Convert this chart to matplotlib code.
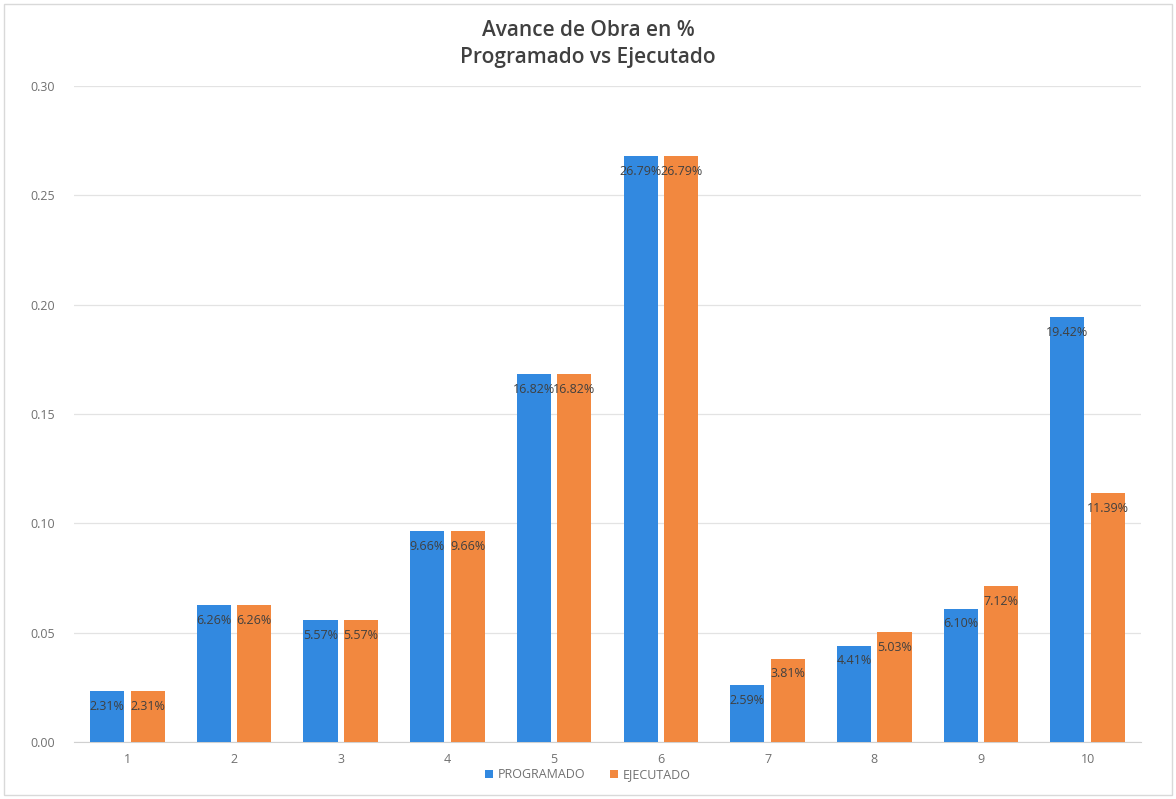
import matplotlib
matplotlib.use("Agg")
import matplotlib.pyplot as plt
import numpy as np

categories = ["1", "2", "3", "4", "5", "6", "7", "8", "9", "10"]
programado = [0.0231, 0.0626, 0.0557, 0.0966, 0.1682, 0.2679, 0.0259, 0.0441, 0.0610, 0.1942]
ejecutado = [0.0231, 0.0626, 0.0557, 0.0966, 0.1682, 0.2679, 0.0381, 0.0503, 0.0712, 0.1139]
yticks = [0.00, 0.05, 0.10, 0.15, 0.20, 0.25, 0.30]

plt.rcParams['font.family'] = ['Open Sans', 'DejaVu Sans']

W, H = 1176, 799
fig = plt.figure(figsize=(W / 100, H / 100), dpi=100)
ax = fig.add_axes([74 / W, 1 - 742 / H, (1141 - 74) / W, (742 - 86) / H])

x = np.arange(len(categories))
bw = 0.32
off = 0.19
blue = "#3289e0"
orange = "#f2883f"
b1 = ax.bar(x - off, programado, bw, color=blue, label="PROGRAMADO", zorder=3)
b2 = ax.bar(x + off, ejecutado, bw, color=orange, label="EJECUTADO", zorder=3)

for bars, vals in ((b1, programado), (b2, ejecutado)):
    for r, v in zip(bars, vals):
        ax.text(r.get_x() + r.get_width() / 2, v - 0.004, f"{v*100:.2f}%",
                ha="center", va="top", fontsize=9, color="#404040", zorder=4)

ax.set_xlim(-0.5, len(categories) - 0.5)
ax.set_ylim(0, 0.30)
ax.set_yticks(yticks)
ax.set_yticklabels([f"{t:.2f}" for t in yticks])
ax.set_xticks(x)
ax.set_xticklabels(categories)
ax.tick_params(axis="both", length=0, labelsize=9, colors="#707070")
ax.tick_params(axis="y", pad=14)
ax.tick_params(axis="x", pad=8)
ax.grid(axis="y", color="#e3e3e3", linewidth=0.9, zorder=0)
for s in ["left", "right", "top"]:
    ax.spines[s].set_visible(False)
ax.spines["bottom"].set_color("#d0d0d0")

fig.text(0.5, 1 - 44 / H, "Avance de Obra en %\nProgramado vs Ejecutado", ha="center", va="center",
         fontsize=15, fontweight="semibold", color="#404040", linespacing=1.35)

leg = fig.legend(handles=[b1, b2], loc="center", bbox_to_anchor=(0.5, 1 - 775 / H), ncol=2,
                 frameon=False, fontsize=9, handlelength=0.6, handleheight=0.6,
                 columnspacing=2.0, handletextpad=0.4, labelcolor="#707070")

fig.patches.append(matplotlib.patches.Rectangle((4 / W, 4 / H), 1 - 8 / W, 1 - 8 / H,
                   transform=fig.transFigure, fill=False, edgecolor="#d9d9d9", linewidth=1))

fig.savefig("out.png", dpi=100)
